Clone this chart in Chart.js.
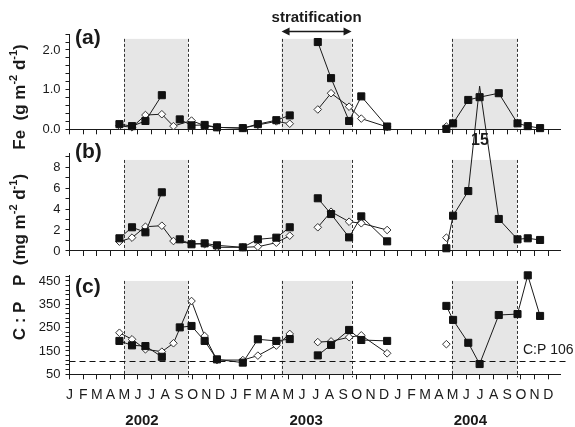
<!DOCTYPE html>
<html>
<head>
<meta charset="utf-8">
<script src="https://cdn.jsdelivr.net/npm/chart.js@4.4.1/dist/chart.umd.min.js"></script>
<style>
    html, body { margin: 0; padding: 0; background: #fff; }
    #wrap { position: relative; width: 575px; height: 427px; }
    #wrap canvas { position: absolute; left: 0; top: 0; }
</style>
</head>
<body>
<div id="wrap">
    <canvas id="chart-fe" width="575" height="427"></canvas>
    <canvas id="chart-cp" width="575" height="427"></canvas>
    <canvas id="chart-p" width="575" height="427"></canvas>
</div>
<script>
/* Sampling times in months since Jan 2002; a null value breaks the line */
const squareMonths = [3.65, 4.57, 5.55, 6.75, 7.4, 8.06, 8.92, 9.88, 10.78, 12.67, 13.77, 15.12, 16.1, 17.1,
    18.15, 19.12, 20.44, 21.33, 23.22, 25.4, 27.55, 28.04, 29.15, 29.98, 31.38, 32.75, 33.5, 34.4];
const diamondMonths = [3.65, 4.57, 5.55, 6.75, 7.6, 8.92, 9.88, 10.78, 12.67, 13.77, 15.12, 16.1, 17.1,
    18.15, 19.12, 20.44, 21.33, 23.22, 25.4, 27.55];

const feSquares = [0.13, 0.08, 0.21, 0.86, null, 0.25, 0.10, 0.11, 0.05, 0.03, 0.13, 0.23, 0.35, null,
    2.20, 1.29, 0.21, 0.83, 0.07, null, 0.01, 0.15, 0.74, 0.81, 0.91, 0.15, 0.08, 0.03];
const feDiamonds = [0.09, 0.05, 0.36, 0.38, 0.08, 0.22, 0.09, 0.05, 0.03, 0.11, 0.20, 0.14, null,
    0.50, 0.91, 0.57, 0.27, 0.06, null, 0.07];

const pSquares = [1.21, 2.26, 1.78, 5.59, null, 1.11, 0.64, 0.73, 0.54, 0.35, 1.11, 1.27, 2.26, null,
    5.02, 3.52, 1.30, 3.30, 0.92, null, 0.26, 3.36, 5.71, 15.7, 3.05, 1.11, 1.21, 1.05];
const pDiamonds = [0.89, 1.27, 2.31, 2.41, 0.95, 0.72, 0.65, 0.35, 0.35, 0.41, 0.79, 1.46, null,
    2.26, 3.74, 2.79, 2.64, 2.00, null, 1.27];

const cpSquares = [193, 174, 171, 125, null, 251, 257, 193, 114, 100, 200, 193, 201, null,
    131, 176, 240, 197, 193, null, 343, 283, 185, 94, 304, 308, 474, 300];
const cpDiamonds = [228, 200, 157, 147, 183, 364, 214, 111, 111, 130, 173, 223, null,
    188, 191, 209, 217, 140, null, 179];

const monthLetters = ['J', 'F', 'M', 'A', 'M', 'J', 'J', 'A', 'S', 'O', 'N', 'D'];
const years = ['2002', '2003', '2004'];
const stratStart = [4.0, 15.5, 27.95];
const stratEnd = [8.65, 20.62, 32.72];
const redfieldCP = 106;

const feMajor = [0, 1, 2];
const pMajor = [0, 2, 4, 6, 8];
const cpMajor = [50, 150, 250, 350, 450];

const FONT = '"Liberation Sans", Arial, Helvetica, sans-serif';
const INK = '#1a1a1a';

function toPoints(months, values) {
    return months.map((m, i) => ({ x: m, y: values[i] }));
}

function stepTicks(min, max, step) {
    const out = [];
    for (let v = min; v <= max + 1e-9; v += step) out.push(Math.round(v * 1000) / 1000);
    return out;
}

function drawVertical(ctx, parts, cx, cy) {
    ctx.save();
    ctx.translate(cx, cy);
    ctx.rotate(-Math.PI / 2);
    ctx.fillStyle = INK;
    ctx.textBaseline = 'alphabetic';
    ctx.textAlign = 'left';
    let total = 0;
    parts.forEach(p => {
        ctx.font = p.sup ? `bold 11px ${FONT}` : `bold 17px ${FONT}`;
        p.w = ctx.measureText(p.t).width;
        total += p.w;
    });
    let x = -total / 2;
    parts.forEach(p => {
        ctx.font = p.sup ? `bold 11px ${FONT}` : `bold 17px ${FONT}`;
        ctx.fillText(p.t, x, p.sup ? -3 : 5);
        x += p.w;
    });
    ctx.restore();
}

// shading, dashed limits, panel letters and extra texts
const decor = {
    id: 'decor',
    beforeDraw(chart, args, opts) {
        const { ctx, chartArea } = chart;
        const xs = chart.scales.x, ys = chart.scales.y;
        const top = ys.getPixelForValue(opts.shadeTop);
        ctx.save();
        stratStart.forEach((s, i) => {
            const x0 = xs.getPixelForValue(s), x1 = xs.getPixelForValue(stratEnd[i]);
            ctx.fillStyle = '#e6e6e6';
            ctx.fillRect(x0, top, x1 - x0, chartArea.bottom - top);
            ctx.strokeStyle = '#333';
            ctx.lineWidth = 1;
            ctx.setLineDash([3, 2]);
            [x0, x1].forEach(x => {
                ctx.beginPath();
                ctx.moveTo(Math.round(x) + 0.5, top);
                ctx.lineTo(Math.round(x) + 0.5, chartArea.bottom + 3);
                ctx.stroke();
            });
        });
        if (opts.redfield) {
            const y = Math.round(ys.getPixelForValue(redfieldCP)) + 0.5;
            ctx.setLineDash([6, 4]);
            ctx.strokeStyle = '#111';
            ctx.beginPath();
            ctx.moveTo(chartArea.left, y);
            ctx.lineTo(566, y);
            ctx.stroke();
        }
        ctx.restore();
    },
    afterDraw(chart, args, opts) {
        const { ctx } = chart;
        const xs = chart.scales.x, ys = chart.scales.y;
        ctx.save();
        ctx.fillStyle = INK;
        ctx.textBaseline = 'middle';
        ctx.textAlign = 'left';
        ctx.font = `bold 21px ${FONT}`;
        ctx.fillText(opts.letter, 75, opts.letterY);
        if (opts.extra) opts.extra(chart, ctx, xs, ys);
        ctx.restore();
    }
};

function makePanel(canvasId, cfg) {
    const minor = stepTicks(cfg.yMin, cfg.yMax, cfg.yStep);
    return new Chart(document.getElementById(canvasId), {
        type: 'line',
        data: {
            datasets: [{
                data: toPoints(squareMonths, cfg.squares),
                borderColor: INK,
                borderWidth: 1,
                backgroundColor: '#111',
                pointStyle: 'rect',
                pointRadius: ctx => (ctx.raw && ctx.raw.y > cfg.yMax ? 0 : 5),
                pointBorderColor: '#111',
                pointBackgroundColor: '#111',
                tension: 0,
                spanGaps: false,
                clip: false
            }, {
                data: toPoints(diamondMonths, cfg.diamonds),
                borderColor: INK,
                borderWidth: 1,
                pointStyle: 'rectRot',
                pointRadius: 3.8,
                pointBorderWidth: 1,
                pointBorderColor: '#333',
                pointBackgroundColor: '#fff',
                tension: 0,
                spanGaps: false,
                clip: false
            }]
        },
        options: {
            responsive: false,
            animation: false,
            devicePixelRatio: 1,
            events: [],
            layout: {
                autoPadding: false,
                padding: { left: 29.5, right: 14.4, top: cfg.top, bottom: cfg.padBottom }
            },
            plugins: {
                legend: { display: false },
                tooltip: { enabled: false },
                decor: cfg.decor
            },
            scales: {
                x: {
                    type: 'linear',
                    min: 0,
                    max: 35.9,
                    afterBuildTicks: s => { s.ticks = stepTicks(0, 35, 1).map(v => ({ value: v })); },
                    afterFit: s => { s.height = cfg.xHeight; },
                    grid: { drawOnChartArea: false, tickLength: 5, color: INK, lineWidth: 1 },
                    border: { color: INK, width: 1 },
                    ticks: {
                        display: cfg.showMonths,
                        autoSkip: false,
                        maxRotation: 0,
                        minRotation: 0,
                        padding: 7,
                        color: INK,
                        font: { family: FONT, size: 14 },
                        callback: v => monthLetters[v % 12]
                    }
                },
                y: {
                    min: cfg.yMin,
                    max: cfg.yMax,
                    afterBuildTicks: s => { s.ticks = minor.map(v => ({ value: v })); },
                    afterFit: s => { s.width = 40; },
                    grid: { drawOnChartArea: false, tickLength: 4, color: INK, lineWidth: 1 },
                    border: { color: INK, width: 1 },
                    ticks: {
                        autoSkip: false,
                        padding: 5,
                        color: INK,
                        font: { family: FONT, size: 13 },
                        callback: v => (cfg.major.some(m => Math.abs(m - v) < 1e-6) ? cfg.fmt(v) : '')
                    }
                }
            }
        },
        plugins: [decor]
    });
}

makePanel('chart-fe', {
    squares: feSquares, diamonds: feDiamonds,
    yMin: 0, yMax: 2.4, yStep: 0.2, major: feMajor, fmt: v => v.toFixed(1),
    top: 34.1, padBottom: 427 - 129.3 - 8, xHeight: 8, showMonths: false,
    decor: {
        shadeTop: 2.28, letter: '(a)', letterY: 38,
        extra: (chart, ctx, xs) => {
            const x0 = xs.getPixelForValue(stratStart[1]), x1 = xs.getPixelForValue(stratEnd[1]);
            const y = 31.5;
            ctx.font = `bold 15px ${FONT}`;
            ctx.textAlign = 'center';
            ctx.fillText('stratification', (x0 + x1) / 2, 18);
            ctx.strokeStyle = INK;
            ctx.lineWidth = 1.5;
            ctx.beginPath();
            ctx.moveTo(x0 + 4, y);
            ctx.lineTo(x1 - 4, y);
            ctx.stroke();
            [[x0, 1], [x1, -1]].forEach(([x, d]) => {
                ctx.beginPath();
                ctx.moveTo(x, y);
                ctx.lineTo(x + d * 8, y - 4);
                ctx.lineTo(x + d * 8, y + 4);
                ctx.closePath();
                ctx.fill();
            });
        }
    }
});

makePanel('chart-cp', {
    squares: cpSquares, diamonds: cpDiamonds,
    yMin: 50, yMax: 475, yStep: 20, major: cpMajor, fmt: v => String(v),
    top: 275.1, padBottom: 0, xHeight: 427 - 374.3, showMonths: true,
    decor: {
        shadeTop: 450, letter: '(c)', letterY: 287, redfield: true,
        extra: (chart, ctx, xs) => {
            ctx.font = `14px ${FONT}`;
            ctx.fillText('C:P ' + redfieldCP, 523, 350);
            ctx.font = `bold 15px ${FONT}`;
            ctx.textAlign = 'center';
            years.forEach((yr, i) => ctx.fillText(yr, xs.getPixelForValue(i * 12 + 5.3), 421));
            drawVertical(ctx, [{ t: 'Fe  (g m' }, { t: '-2', sup: true }, { t: ' d' }, { t: '-1', sup: true }, { t: ')' }], 20, 97);
            drawVertical(ctx, [{ t: 'P  (mg m' }, { t: '-2', sup: true }, { t: ' d' }, { t: '-1', sup: true }, { t: ')' }], 20, 230);
            drawVertical(ctx, [{ t: 'C : P' }], 20, 321);
        }
    }
});

makePanel('chart-p', {
    squares: pSquares, diamonds: pDiamonds,
    yMin: 0, yMax: 9.3, yStep: 1, major: pMajor, fmt: v => String(v),
    top: 153.35, padBottom: 427 - 251 - 8, xHeight: 8, showMonths: false,
    decor: {
        shadeTop: 8.67, letter: '(b)', letterY: 152,
        extra: (chart, ctx) => {
            ctx.font = `bold 16px ${FONT}`;
            ctx.textAlign = 'center';
            ctx.fillText('15', 480, 141);
        }
    }
});
</script>
</body>
</html>
